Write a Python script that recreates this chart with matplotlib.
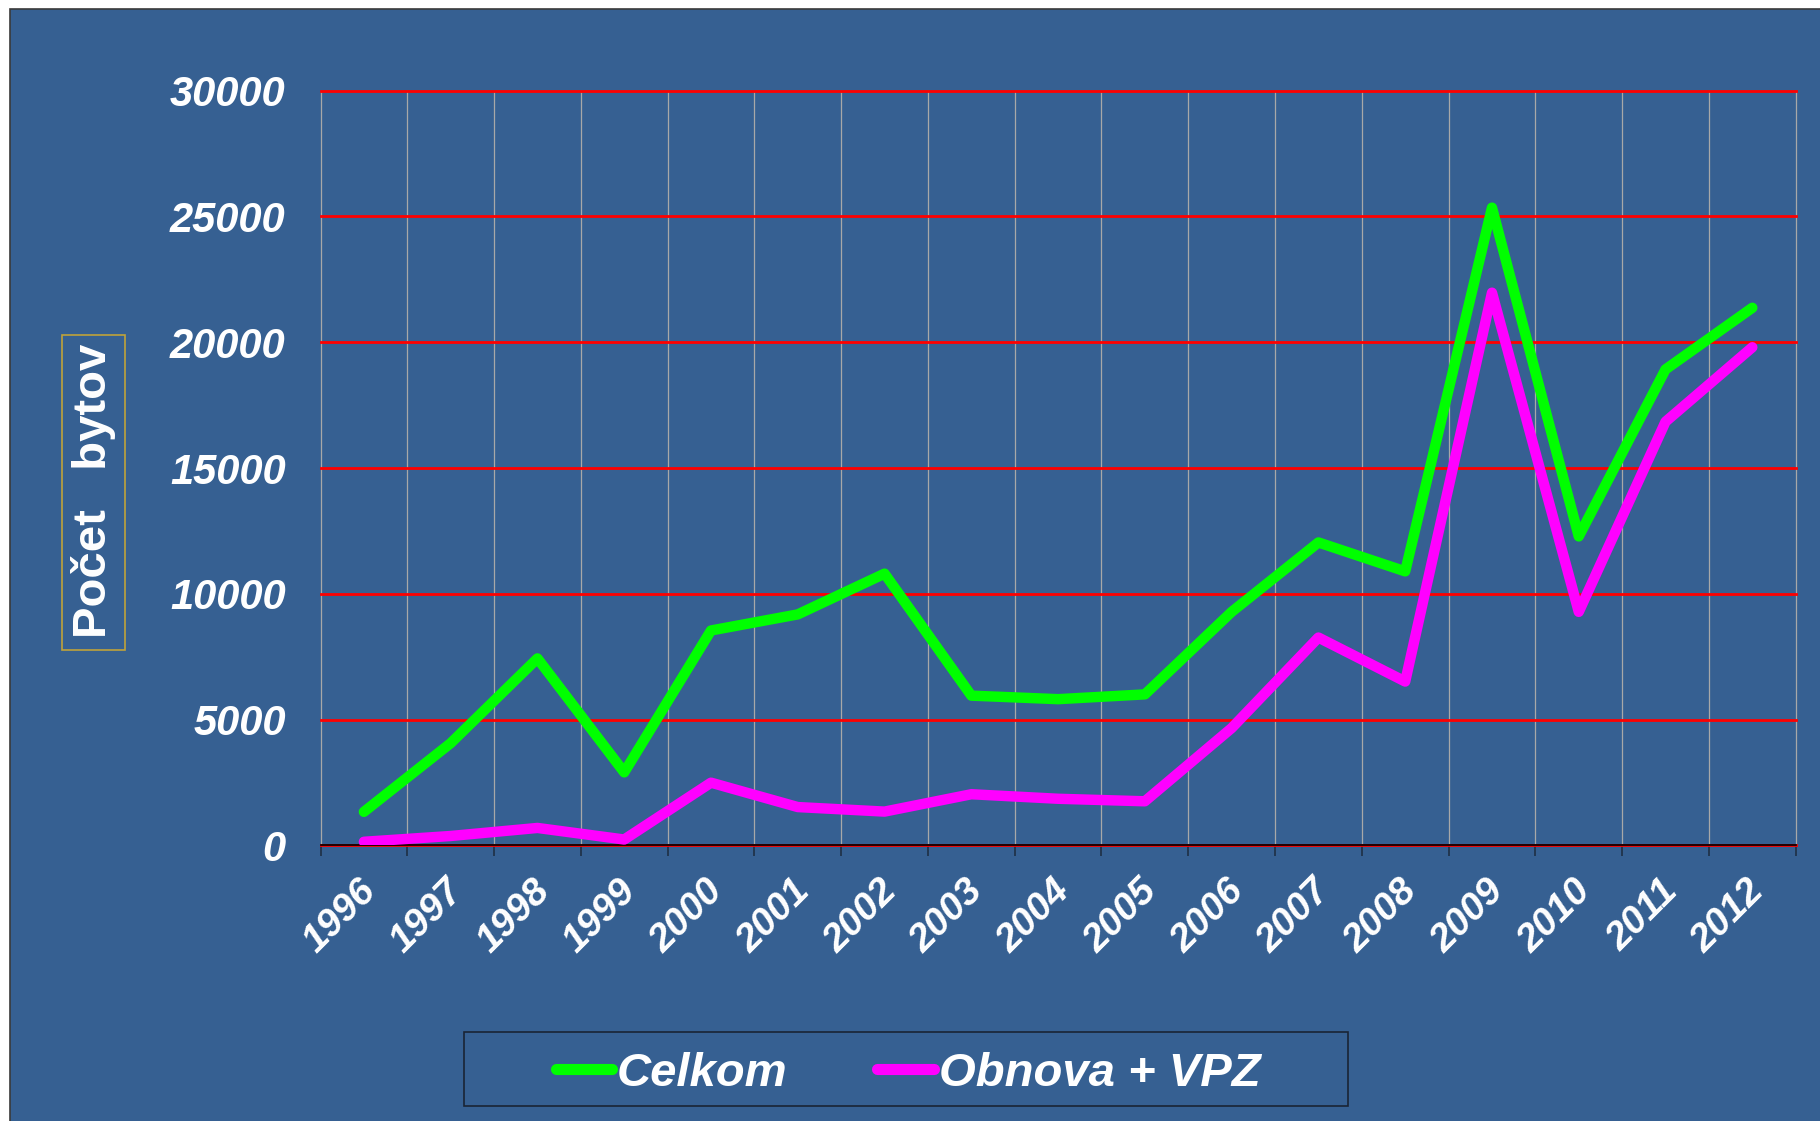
import numpy as np
import matplotlib.pyplot as plt
import matplotlib.transforms as mtransforms
from matplotlib.patches import Rectangle

# data
years = ['1996', '1997', '1998', '1999', '2000', '2001', '2002', '2003', '2004',
         '2005', '2006', '2007', '2008', '2009', '2010', '2011', '2012']
celkom = [1330, 4060, 7430, 2900, 8540, 9180, 10800, 5950, 5810,
          6000, 9280, 12040, 10890, 25350, 12280, 18920, 21370]
obnova = [140, 370, 690, 230, 2490, 1520, 1340, 2030, 1850,
          1750, 4660, 8260, 6510, 21970, 9280, 16840, 19800]

bg = '#366092'
W, H = 1820, 1121

fig = plt.figure(figsize=(W / 100, H / 100), dpi=100)
fig.patch.set_facecolor('white')

# blue panel with thin dark edge (white strip on top and left)
fig.patches.append(Rectangle((10 / W, -0.01), 1.01, 1 - 9 / H + 0.01,
                             transform=fig.transFigure, facecolor=bg,
                             edgecolor='#3a3a3a', linewidth=1.2, zorder=-10))

ax = fig.add_axes([320.5 / W, 1 - 845.3 / H, (1795.7 - 320.5) / W, (845.3 - 90.7) / H])
ax.set_facecolor(bg)

x = np.arange(len(years)) + 0.5
ax.plot(x, celkom, color='#00FF00', lw=7.5, solid_capstyle='round',
        solid_joinstyle='round', label='Celkom', zorder=3)
ax.plot(x, obnova, color='#FF00FF', lw=7.5, solid_capstyle='round',
        solid_joinstyle='round', label='Obnova + VPZ', zorder=3)

ax.set_xlim(0, len(years))
ax.set_ylim(0, 30000)

# y axis
ax.set_yticks(np.arange(0, 30001, 5000))
ax.set_yticklabels([str(v) for v in range(0, 30001, 5000)])
ax.tick_params(axis='y', length=0, pad=25)
ax.yaxis.grid(True, color='#FF0000', lw=2)
for gl in ax.get_ygridlines():
    gl.set_clip_on(False)

# x axis: ticks/grid at boundaries, labels at centers
ax.set_xticks(np.arange(0, len(years) + 1), minor=True)
ax.set_xticks(x)
ax.set_xticklabels(years)
ax.tick_params(axis='x', which='major', length=0, pad=20)
ax.tick_params(axis='x', which='minor', length=8, width=1.2, direction='out',
               color='#1f2f45')
ax.xaxis.grid(True, which='minor', color='#a8a8a8', lw=0.9)
ax.xaxis.grid(False, which='major')
for t in ax.xaxis.get_minor_ticks():
    t.gridline.set_clip_on(False)
ax.set_axisbelow(True)

for lab in ax.get_yticklabels():
    lab.set_fontfamily('Liberation Sans')
    lab.set_fontweight('bold')
    lab.set_fontstyle('italic')
    lab.set_fontsize(30)
    lab.set_color('white')

offset = mtransforms.ScaledTranslation(-6 / 100, 0, fig.dpi_scale_trans)
for lab in ax.get_xticklabels():
    lab.set_fontfamily('Liberation Sans')
    lab.set_fontweight('bold')
    lab.set_fontstyle('italic')
    lab.set_fontsize(28)
    lab.set_color('white')
    lab.set_rotation(45)
    lab.set_ha('right')
    lab.set_va('top')
    lab.set_rotation_mode('anchor')
    lab.set_transform(lab.get_transform() + offset)

for s in ['top', 'right', 'left']:
    ax.spines[s].set_visible(False)
ax.spines['bottom'].set_color('black')
ax.spines['bottom'].set_linewidth(1.2)

# y label in a framed box
fig.patches.append(Rectangle((62 / W, 1 - 650 / H), 63 / W, 315 / H,
                             transform=fig.transFigure, facecolor='none',
                             edgecolor='#BFA33A', linewidth=1.2, zorder=2))
fig.text(93.5 / W, 1 - 491 / H, 'Počet   bytov', rotation=90, ha='center', va='center',
         fontsize=34, fontweight='bold', color='white', family='Liberation Sans')

# legend in a framed box
fig.patches.append(Rectangle((464 / W, 1 - 1106 / H), 884 / W, 74 / H,
                             transform=fig.transFigure, facecolor='none',
                             edgecolor='#1a2435', linewidth=1.2, zorder=2))
leg = fig.legend(loc='center', bbox_to_anchor=(908 / W, 1 - 1074 / H), ncol=2,
                 frameon=False, handlelength=1.2, handletextpad=0.1,
                 columnspacing=1.9,
                 prop={'family': 'Liberation Sans', 'weight': 'bold',
                       'style': 'italic', 'size': 34})
for t in leg.get_texts():
    t.set_color('white')
for h in leg.legend_handles:
    h.set_linewidth(8)

fig.savefig('out.png', dpi=100, facecolor=fig.get_facecolor())
